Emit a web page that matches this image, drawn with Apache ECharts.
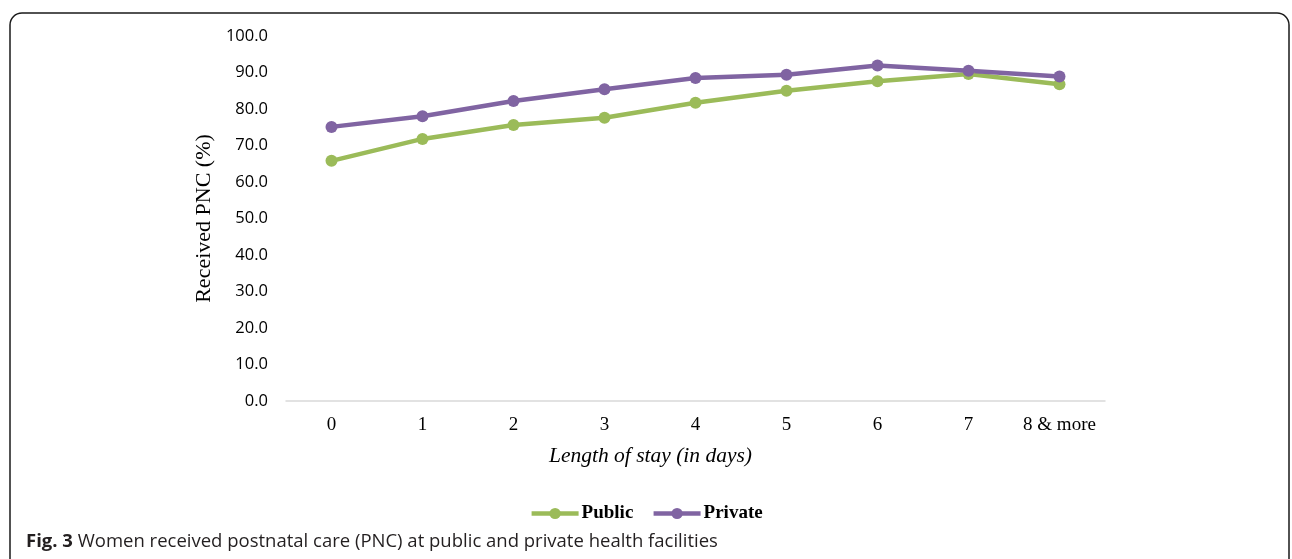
<!DOCTYPE html>
<html>
<head>
<meta charset="utf-8">
<script src="https://cdn.jsdelivr.net/npm/echarts@6/dist/echarts.min.js"></script>
<style>
html,body{margin:0;padding:0;background:#fff;}
#c{width:1292px;height:559px;}
</style>
</head>
<body>
<div id="c"></div>
<script>
const categories = ['0','1','2','3','4','5','6','7','8 & more'];
const publicValues = [65.8, 71.8, 75.6, 77.6, 81.7, 85.0, 87.6, 89.6, 86.8];
const privateValues = [75.1, 78.0, 82.2, 85.4, 88.5, 89.4, 91.9, 90.5, 88.9];
const seriesNames = ['Public', 'Private'];

const chart = echarts.init(document.getElementById('c'));
const serif = '"Liberation Serif", "DejaVu Serif", serif';
const sans = '"Open Sans", "Noto Sans", sans-serif';
chart.setOption({
  animation: false,
  backgroundColor: '#fff',
  graphic: [{
    type: 'rect',
    shape: {x: 10, y: 13, width: 1279, height: 620, r: 12},
    style: {fill: 'none', stroke: '#1a1a1a', lineWidth: 1.5},
    silent: true
  }, {
    type: 'text',
    left: 26, top: 532,
    style: {
      text: '{b|Fig. 3} Women received postnatal care (PNC) at public and private health facilities',
      fontFamily: sans, fontSize: 18.5, fill: '#231f20',
      rich: {b: {fontFamily: sans, fontSize: 18.5, fontWeight: 'bold', fill: '#231f20'}}
    },
    silent: true
  }],
  legend: {
    top: 499, left: 'center',
    itemWidth: 47, itemHeight: 14, itemGap: 18,
    lineStyle: {width: 4.5},
    textStyle: {fontFamily: serif, fontSize: 19, fontWeight: 'bold', color: '#000', padding: [0, 0, 0, -2]},
    data: seriesNames
  },
  grid: {left: 286, right: 187, top: 36, bottom: 158},
  xAxis: {
    type: 'category', data: categories, boundaryGap: true,
    axisLine: {lineStyle: {color: '#d9d9d9', width: 1.5}},
    axisTick: {show: false},
    axisLabel: {interval: 0, fontFamily: serif, fontSize: 19, color: '#000', margin: 15},
    name: 'Length of stay (in days)', nameLocation: 'middle', nameGap: 44,
    nameTextStyle: {fontFamily: serif, fontSize: 21.5, fontStyle: 'italic', color: '#000', padding: [0, 90, 0, 0]}
  },
  yAxis: {
    type: 'value', min: 0, max: 100, interval: 10,
    axisLine: {show: false}, axisTick: {show: false},
    splitLine: {show: false},
    axisLabel: {fontFamily: sans, fontSize: 16.5, color: '#000', margin: 18,
      formatter: v => v.toFixed(1)},
    name: 'Received PNC (%)', nameLocation: 'middle', nameGap: 68, nameRotate: 90,
    nameTextStyle: {fontFamily: serif, fontSize: 22, color: '#000'}
  },
  series: [
    {name: seriesNames[0], type: 'line', data: publicValues, symbol: 'circle', symbolSize: 12,
     itemStyle: {color: '#9bbb59'}, lineStyle: {color: '#9bbb59', width: 4.5}},
    {name: seriesNames[1], type: 'line', data: privateValues, symbol: 'circle', symbolSize: 12,
     itemStyle: {color: '#8064a2'}, lineStyle: {color: '#8064a2', width: 4.5}}
  ]
});
</script>
</body>
</html>
